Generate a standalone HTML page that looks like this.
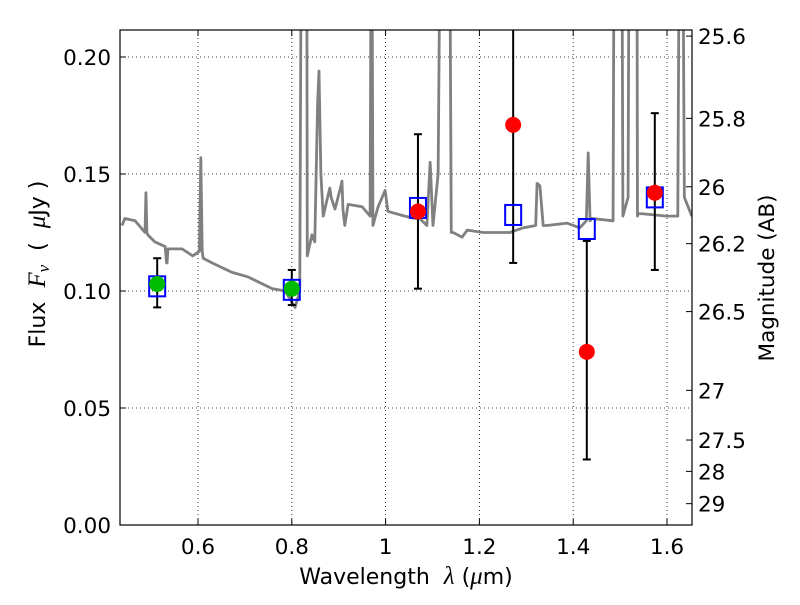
<!DOCTYPE html>
<html><head><meta charset="utf-8"><style>
body{margin:0;background:#fff}
svg text{font-family:"DejaVu Sans","Liberation Sans",sans-serif;fill:#000}
.m{font-family:"Liberation Serif","DejaVu Serif",serif;font-style:italic}
</style></head><body>
<svg id="chart" width="800" height="600" xmlns="http://www.w3.org/2000/svg"></svg>
<script>
const specLam=[0.438,0.444,0.466,0.487,0.489,0.491,0.493,0.508,0.530,0.533,0.534,0.536,0.566,0.589,0.603,0.606,0.609,0.611,0.630,0.672,0.707,0.758,0.786,0.807,0.817,0.820,0.822,0.830,0.832,0.833,0.843,0.849,0.855,0.858,0.862,0.867,0.881,0.884,0.892,0.905,0.907,0.909,0.913,0.920,0.950,0.967,0.969,0.971,0.973,0.984,0.999,1.005,1.041,1.063,1.073,1.088,1.095,1.101,1.112,1.114,1.116,1.137,1.140,1.144,1.163,1.174,1.208,1.265,1.293,1.320,1.323,1.329,1.336,1.344,1.387,1.414,1.428,1.432,1.436,1.440,1.485,1.487,1.489,1.504,1.506,1.517,1.519,1.521,1.536,1.537,1.538,1.547,1.600,1.623,1.626,1.628,1.634,1.637,1.643,1.653];
const specFlux=[0.128,0.131,0.130,0.125,0.142,0.125,0.124,0.121,0.119,0.112,0.112,0.118,0.118,0.115,0.117,0.157,0.117,0.114,0.112,0.108,0.106,0.101,0.100,0.093,0.100,0.25,0.25,0.25,0.25,0.115,0.124,0.121,0.18,0.194,0.15,0.132,0.144,0.140,0.135,0.145,0.147,0.135,0.128,0.137,0.136,0.132,0.25,0.25,0.128,0.136,0.143,0.134,0.132,0.131,0.131,0.128,0.155,0.128,0.150,0.2,0.25,0.25,0.125,0.125,0.123,0.126,0.125,0.125,0.127,0.128,0.146,0.145,0.128,0.128,0.129,0.127,0.130,0.159,0.130,0.131,0.130,0.25,0.25,0.25,0.132,0.140,0.25,0.25,0.25,0.132,0.133,0.133,0.132,0.132,0.25,0.25,0.25,0.140,0.137,0.132];
const modelLam=[0.513,0.800,1.069,1.272,1.429,1.574];
const modelFlux=[0.102,0.1005,0.1355,0.1325,0.1265,0.140];
const greenLam=[0.513,0.800];
const greenFlux=[0.103,0.101];
const greenLo=[0.093,0.094];
const greenHi=[0.114,0.109];
const redLam=[1.069,1.272,1.429,1.574];
const redFlux=[0.134,0.171,0.074,0.142];
const redLo=[0.101,0.112,0.028,0.109];
const redHi=[0.167,0.30,0.1214,0.176];
const xTicks=[0.6,0.8,1.0,1.2,1.4,1.6];
const xTickLabels=["0.6","0.8","1","1.2","1.4","1.6"];
const yTicks=[0,0.05,0.10,0.15,0.20];
const yTickLabels=["0.00","0.05","0.10","0.15","0.20"];
const magTicks=[25.6,25.8,26,26.2,26.5,27,27.5,28,29];
const magTickLabels=["25.6","25.8","26","26.2","26.5","27","27.5","28","29"];

const L=120,R=692,T=30,B=525;
const xMin=0.4337,xMax=1.6533,yMin=0,yMax=0.21154;
const sx=v=>L+(v-xMin)/(xMax-xMin)*(R-L);
const sy=v=>B-(v-yMin)/(yMax-yMin)*(B-T);
const magToFlux=m=>Math.pow(10,-0.4*(m-23.9));
const svg=document.getElementById('chart');
const NS="http://www.w3.org/2000/svg";
function mk(tag,attrs,parent){const e=document.createElementNS(NS,tag);for(const k in attrs)e.setAttribute(k,attrs[k]);(parent||svg).appendChild(e);return e;}

const defs=mk('defs',{});const cp=mk('clipPath',{id:'clip'},defs);mk('rect',{x:L,y:T,width:R-L,height:B-T},cp);

const grid=mk('g',{});


xTicks.forEach(v=>{mk('line',{x1:sx(v),x2:sx(v),y1:T,y2:B,stroke:'#000','stroke-width':0.8,'stroke-dasharray':'1,3'},grid);});
yTicks.forEach(v=>{mk('line',{x1:L,x2:R,y1:sy(v),y2:sy(v),stroke:'#000','stroke-width':0.8,'stroke-dasharray':'1,3'},grid);});

const pg=mk('g',{'clip-path':'url(#clip)'});
const spec=mk('polyline',{points:specLam.map((l,i)=>sx(l)+','+sy(specFlux[i])).join(' '),fill:'none',stroke:'#808080','stroke-width':2.8,'stroke-linejoin':'round'},pg);



function errbar(x,lo,hi,name){
  const g=mk('g',{},pg);
  
  
  mk('line',{x1:sx(x),x2:sx(x),y1:sy(lo),y2:sy(hi),stroke:'#000','stroke-width':2},g);
  mk('line',{x1:sx(x)-4,x2:sx(x)+4,y1:sy(lo),y2:sy(lo),stroke:'#000','stroke-width':2},g);
  mk('line',{x1:sx(x)-4,x2:sx(x)+4,y1:sy(hi),y2:sy(hi),stroke:'#000','stroke-width':2},g);
}
greenLam.forEach((l,i)=>errbar(l,greenLo[i],greenHi[i],'green-errorbar'));
redLam.forEach((l,i)=>errbar(l,redLo[i],redHi[i],'red-errorbar'));

modelLam.forEach((l,i)=>{
  const r=mk('rect',{x:sx(l)-8,y:sy(modelFlux[i])-10,width:16,height:20,fill:'none',stroke:'#0000ff','stroke-width':2},pg);
  
  
});
greenLam.forEach((l,i)=>{
  const c=mk('circle',{cx:sx(l),cy:sy(greenFlux[i]),r:8,fill:'#00bb00'},pg);
  
  
});
redLam.forEach((l,i)=>{
  const c=mk('circle',{cx:sx(l),cy:sy(redFlux[i]),r:8,fill:'#ff0000'},pg);
  
  
});

const fr=mk('rect',{x:L,y:T,width:R-L,height:B-T,fill:'none',stroke:'#000','stroke-width':1.2});



xTicks.forEach((v,i)=>{
  mk('line',{x1:sx(v),x2:sx(v),y1:B,y2:B-6,stroke:'#000'});
  mk('line',{x1:sx(v),x2:sx(v),y1:T,y2:T+6,stroke:'#000'});
  const t=mk('text',{x:sx(v),y:B+29,'text-anchor':'middle','font-size':21.5});
  t.textContent=xTickLabels[i];
  
  
});
yTicks.forEach((v,i)=>{
  mk('line',{x1:L,x2:L+6,y1:sy(v),y2:sy(v),stroke:'#000'});
  const t=mk('text',{x:L-9,y:sy(v)+8,'text-anchor':'end','font-size':21.5});
  t.textContent=yTickLabels[i];
  
  
});
magTicks.forEach((m,i)=>{
  const y=sy(magToFlux(m));
  mk('line',{x1:R,x2:R-6,y1:y,y2:y,stroke:'#000'});
  const t=mk('text',{x:R+6,y:y+8,'text-anchor':'start','font-size':21.5});
  t.textContent=magTickLabels[i];
  
  
});

const xt=mk('text',{x:406,y:584,'text-anchor':'middle','font-size':22});
xt.innerHTML='Wavelength\u00a0\u00a0<tspan class="m" font-size="25">λ</tspan> (<tspan class="m" font-size="25">μ</tspan>m)';


const yt=mk('text',{x:0,y:0,'text-anchor':'middle','font-size':22,transform:'translate(45,264) rotate(-90)'});
yt.innerHTML='Flux\u00a0\u00a0<tspan class="m" font-size="25">F</tspan><tspan class="m" font-size="17" dy="4">ν</tspan><tspan dy="-4">\u00a0\u00a0(\u00a0\u00a0</tspan><tspan class="m" font-size="25">μ</tspan>Jy\u00a0)';


const rt=mk('text',{x:0,y:0,'text-anchor':'middle','font-size':21.5,transform:'translate(774,278) rotate(-90)'});
rt.textContent='Magnitude (AB)';


</script>
</body></html>
